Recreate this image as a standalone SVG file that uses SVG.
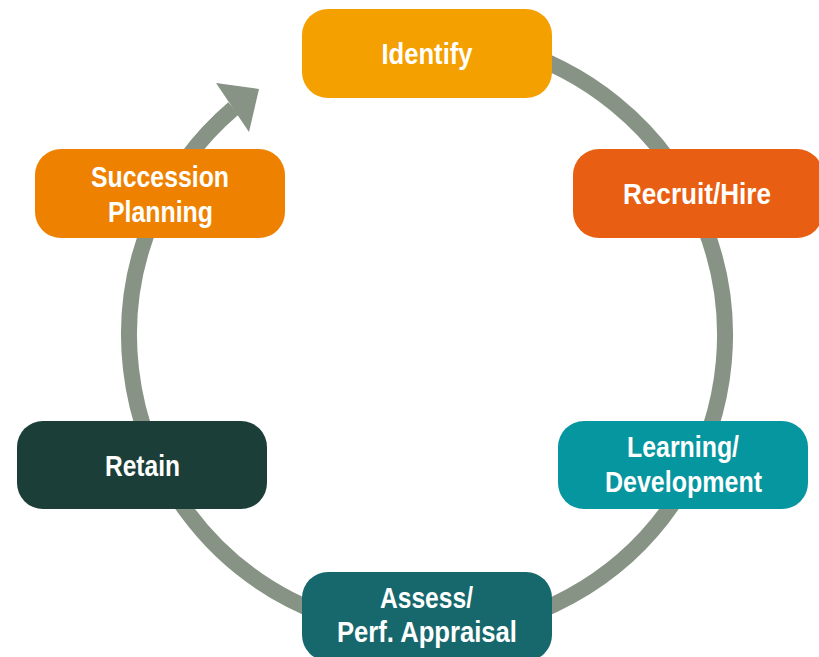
<svg xmlns="http://www.w3.org/2000/svg" width="819" height="657" viewBox="0 0 819 657">
  <style>
    .box { stroke: none; }
    .label { font-family: "Liberation Sans Narrow", "Liberation Sans", Arial, sans-serif; font-weight: bold; font-size: 30px; fill: #ffffff; text-anchor: middle; }
    .ring { fill: none; stroke: #879385; stroke-width: 16; }
    .head { fill: #879385; }
  </style>
  <rect width="819" height="657" fill="#ffffff"/>

  <!-- cycle ring with arrowhead -->
  <g id="connectors">
    <path class="ring" d="M 340,50 A 298 298 0 1 1 233.5,108.4"/>
    <polygon class="head" points="259,89 216,83 249,132"/>
  </g>

  <g id="identify">
    <rect class="box" x="302" y="9" width="250" height="89" rx="26" fill="#F4A000"/>
    <text class="label" x="427" y="64" textLength="91" lengthAdjust="spacingAndGlyphs">Identify</text>
  </g>

  <g id="recruit-hire">
    <rect class="box" x="573" y="149" width="250" height="89" rx="26" fill="#E85E12"/>
    <text class="label" x="697" y="204" textLength="148" lengthAdjust="spacingAndGlyphs">Recruit/Hire</text>
  </g>

  <g id="learning-development">
    <rect class="box" x="558" y="421" width="250" height="88" rx="26" fill="#0596A0"/>
    <text class="label" x="683" y="457" textLength="112" lengthAdjust="spacingAndGlyphs">Learning/</text>
    <text class="label" x="683.5" y="492" textLength="157" lengthAdjust="spacingAndGlyphs">Development</text>
  </g>

  <g id="assess-appraisal">
    <rect class="box" x="302" y="572" width="250" height="89" rx="26" fill="#17686C"/>
    <text class="label" x="426.5" y="608" textLength="93" lengthAdjust="spacingAndGlyphs">Assess/</text>
    <text class="label" x="427" y="642" textLength="180" lengthAdjust="spacingAndGlyphs">Perf. Appraisal</text>
  </g>

  <g id="retain">
    <rect class="box" x="17" y="421" width="250" height="88" rx="26" fill="#1B3F38"/>
    <text class="label" x="142.5" y="476" textLength="75" lengthAdjust="spacingAndGlyphs">Retain</text>
  </g>

  <g id="succession-planning">
    <rect class="box" x="35" y="149" width="250" height="89" rx="26" fill="#EE8200"/>
    <text class="label" x="160" y="187" textLength="138" lengthAdjust="spacingAndGlyphs">Succession</text>
    <text class="label" x="160.5" y="222" textLength="105" lengthAdjust="spacingAndGlyphs">Planning</text>
  </g>
</svg>
